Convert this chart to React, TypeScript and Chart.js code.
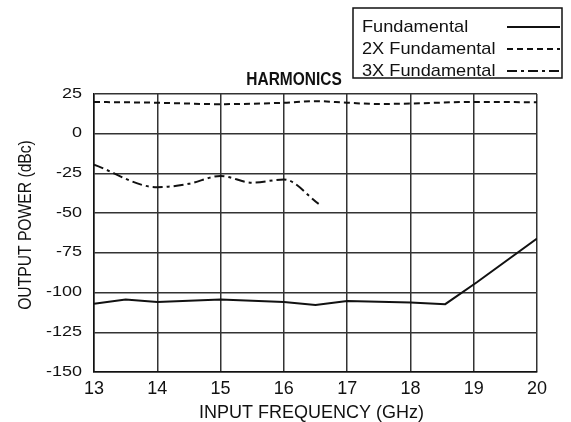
import React, { useEffect, useRef } from "react";
import { Chart, registerables } from "chart.js";

Chart.register(...registerables);

const fundFreq = [13, 13.5, 14, 15, 16, 16.5, 17, 18, 18.55, 19.05, 20];
const fundVals = [-107, -104.3, -106, -104.3, -106, -107.8, -105.3, -106.3, -107.3, -93.5, -66];

const fund2Freq = [13, 14, 15, 16, 16.5, 17, 17.5, 18, 19, 20];
const fund2Vals = [20, 19.5, 18.6, 19.5, 20.5, 19.5, 18.7, 19, 20, 19.8];

const fund3Freq = [13, 14, 14.5, 15, 15.5, 16, 16.55];
const fund3Vals = [-19.5, -33.7, -31.5, -26.6, -30.8, -28.8, -44.2];

const xTicks = [13, 14, 15, 16, 17, 18, 19, 20];
const yTicks = [25, 0, -25, -50, -75, -100, -125, -150];

const legendLabels = ["Fundamental", "2X Fundamental", "3X Fundamental"];
const chartTitle = "HARMONICS";
const xTitle = "INPUT FREQUENCY (GHz)";
const yTitle = "OUTPUT POWER (dBc)";

const FONT = "'Liberation Sans', Arial, Helvetica, sans-serif";
const DASHES: number[][] = [[], [6, 4], [10, 4, 3, 4]];

const toPts = (xs: number[], ys: number[]) => xs.map((x, i) => ({ x, y: ys[i] }));

function txt(ctx: CanvasRenderingContext2D, s: string, x: number, y: number, sx: number, align: CanvasTextAlign, rot = 0) {
  ctx.save();
  ctx.translate(x, y);
  if (rot) ctx.rotate(rot);
  ctx.scale(sx, 1);
  ctx.textAlign = align;
  ctx.textBaseline = "middle";
  ctx.fillText(s, 0, 0);
  ctx.restore();
}

const overlayPlugin = {
  id: "overlay",
  afterDraw(chart: any) {
    const ctx: CanvasRenderingContext2D = chart.ctx;
    const ca = chart.chartArea;
    const xs = chart.scales.x;
    const ys = chart.scales.y;
    ctx.save();
    ctx.fillStyle = "#111";
    // tick labels
    ctx.font = `15px ${FONT}`;
    yTicks.forEach((v) => txt(ctx, String(v), 82, ys.getPixelForValue(v) - 0.5, 1.2, "right"));
    ctx.font = `18px ${FONT}`;
    xTicks.forEach((v) => txt(ctx, String(v), xs.getPixelForValue(v), 389, 1.0, "center"));
    // title
    ctx.font = `bold 18px ${FONT}`;
    txt(ctx, chartTitle, 294, 80, 0.86, "center");
    // axis titles
    ctx.font = `18px ${FONT}`;
    txt(ctx, xTitle, (ca.left + ca.right) / 2 - 4, 413, 1.0, "center");
    txt(ctx, yTitle, 26, 225, 0.87, "center", -Math.PI / 2);
    // legend
    ctx.fillStyle = "#fff";
    ctx.fillRect(353, 8, 209, 70);
    ctx.strokeStyle = "#111";
    ctx.lineWidth = 1.5;
    ctx.strokeRect(353, 8, 209, 70);
    ctx.fillStyle = "#111";
    ctx.font = `17px ${FONT}`;
    const rows = [27, 49, 71];
    legendLabels.forEach((lab, i) => {
      txt(ctx, lab, 362, rows[i], 1.07, "left");
      ctx.beginPath();
      ctx.setLineDash(DASHES[i]);
      ctx.lineWidth = 1.8;
      ctx.moveTo(507, rows[i]);
      ctx.lineTo(560, rows[i]);
      ctx.stroke();
    });
    ctx.setLineDash([]);
    ctx.restore();
  },
};

export default function App() {
  const ref = useRef<HTMLCanvasElement | null>(null);
  useEffect(() => {
    if (!ref.current) return;
    const chart = new Chart(ref.current, {
      type: "scatter",
      data: {
        datasets: [
          { label: legendLabels[0], data: toPts(fundFreq, fundVals), showLine: true, borderColor: "#111", borderWidth: 2, borderDash: DASHES[0], pointRadius: 0, tension: 0 },
          { label: legendLabels[1], data: toPts(fund2Freq, fund2Vals), showLine: true, borderColor: "#111", borderWidth: 2, borderDash: DASHES[1], pointRadius: 0, cubicInterpolationMode: "monotone" },
          { label: legendLabels[2], data: toPts(fund3Freq, fund3Vals), showLine: true, borderColor: "#111", borderWidth: 2, borderDash: DASHES[2], pointRadius: 0, cubicInterpolationMode: "monotone" },
        ],
      },
      options: {
        animation: false,
        responsive: true,
        maintainAspectRatio: false,
        layout: { padding: { top: 94, left: 15, right: 34, bottom: 4 } },
        plugins: { legend: { display: false }, title: { display: false }, tooltip: { enabled: false } },
        scales: {
          x: {
            type: "linear",
            min: 13,
            max: 20,
            afterFit: (s: any) => { s.height = 46; },
            afterBuildTicks: (s: any) => { s.ticks = xTicks.map((v) => ({ value: v })); },
            ticks: { display: false },
            grid: { color: "#333", lineWidth: 1.5, drawTicks: false },
            border: { color: "#111", width: 1.5 },
          },
          y: {
            type: "linear",
            min: -150,
            max: 25,
            afterFit: (s: any) => { s.width = 79; },
            afterBuildTicks: (s: any) => { s.ticks = yTicks.map((v) => ({ value: v })); },
            ticks: { display: false },
            grid: { color: "#333", lineWidth: 1.5, drawTicks: false },
            border: { color: "#111", width: 1.5 },
          },
        },
      },
      plugins: [overlayPlugin],
    });
    return () => chart.destroy();
  }, []);
  return (
    <div style={{ position: "fixed", left: 0, top: 0, width: 571, height: 422, background: "#fff" }}>
      <canvas ref={ref} />
    </div>
  );
}
